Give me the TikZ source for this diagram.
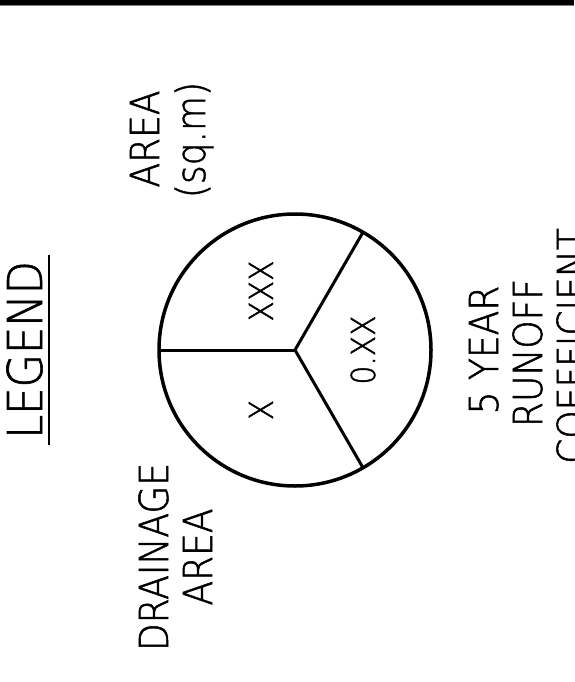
\documentclass[tikz,border=0pt]{standalone}
\usepackage{fontspec}
\setmainfont{Liberation Sans}
\newfontfamily\lblfont[FakeStretch=0.9,FakeBold=1.3]{DejaVu Sans ExtraLight}
\usetikzlibrary{calc}
\begin{document}
\begin{tikzpicture}[x=1pt,y=-1pt,
  lbl/.style={rotate=90,anchor=base,inner sep=0pt,font=\lblfont\fontsize{40}{48}\selectfont},
  val/.style={rotate=90,anchor=base,inner sep=0pt,font=\lblfont\fontsize{33}{40}\selectfont},
  ttl/.style={rotate=90,anchor=base,inner sep=0pt,font=\lblfont\fontsize{48}{58}\selectfont},
  rim/.style={draw,circle,line width=3.5pt,minimum size=272pt,inner sep=0pt,outer sep=0pt},
  spoke/.style={line width=3pt},
  uline/.style={line width=2.2pt}]
\useasboundingbox (0,0) rectangle (574,682);
\fill[black] (0,0) rectangle (574,5);
\draw[gray,line width=1pt] (0,6) -- (574,6);
% title
\node[ttl] (legend) at (42,350) {LEGEND};
\draw[uline] ($(legend.base west)+(7,6)$) -- ($(legend.base east)+(7,-6)$);
% pie
\node[rim] (pie) at (295,350) {};
\draw[spoke] (pie.center) -- (pie.180);
\draw[spoke] (pie.center) -- (pie.60);
\draw[spoke] (pie.center) -- (pie.-60);
\node[val] (vxxx) at (273,291) {XXX};
\node[val] (vx) at (273,410) {X};
\node[val] (vc) at (375,350) {0.XX};
% labels
\node[lbl] (area1) at (159,139) {AREA};
\node[lbl] (area2) at (205,140) {(sq.m)};
\node[lbl] (drain1) at (168,557) {DRAINAGE};
\node[lbl] (drain2) at (212,557) {AREA};
\node[lbl] (run1) at (498,350) {5 YEAR};
\node[lbl] (run2) at (542,353) {RUNOFF};
\node[lbl] (run3) at (586,346) {COEFFICIENT};
\end{tikzpicture}
\end{document}
